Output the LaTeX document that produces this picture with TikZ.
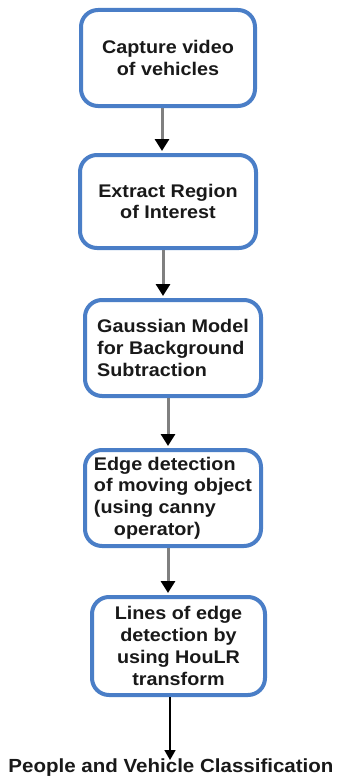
\documentclass[tikz,border=0pt]{standalone}
\usepackage{fontspec}
\setmainfont[FakeStretch=1.08]{Liberation Sans}
\usetikzlibrary{arrows.meta}
\definecolor{boxblue}{RGB}{74,126,199}
\definecolor{shaftgray}{RGB}{128,128,128}
\definecolor{inkdark}{RGB}{25,25,25}
\begin{document}
\begin{tikzpicture}[x=1pt,y=-1pt,
  stage/.style={draw=boxblue, line width=4pt, rounded corners=17pt, fill=white,
    inner sep=0pt, text=inkdark,
    font=\fontsize{18.3}{21.8}\selectfont\bfseries},
  flow/.style={draw=shaftgray, line width=3pt, shorten >=2pt,
    -{Triangle[width=14pt,length=12pt,color=black]}},
  lastflow/.style={draw=black, line width=1.6pt,
    -{Triangle[width=11pt,length=10pt,color=black]}}]
\useasboundingbox (0,0) rectangle (337,776);

% processing stages
\node[stage, minimum width=174pt, minimum height=96pt, align=center] (b1) at (168,58)
  {Capture video\\of vehicles};
\node[stage, minimum width=176pt, minimum height=93pt, align=center] (b2) at (168,201.5)
  {Extract Region\\of Interest};
\node[stage, minimum width=176pt, minimum height=96pt, align=left] (b3) at (173,348)
  {Gaussian Model\\for Background\\Subtraction};
\node[stage, minimum width=176pt, minimum height=96pt, align=left] (b4) at (173,498)
  {Edge detection\\of moving object\\(using canny\\\hspace*{20pt}operator)};
\node[stage, minimum width=173pt, minimum height=98pt, align=center] (b5) at (178.5,646)
  {Lines of edge\\detection by\\using HouLR\\transform};

% final result
\node[anchor=base, inner sep=0pt, text=inkdark,
  font=\fontsize{19}{22}\selectfont\bfseries] (res) at (171,772)
  {People and Vehicle Classification};

% connectors
\draw[flow] ([xshift=-6pt]b1.south) -- ([xshift=-6pt]b1.south |- b2.north);
\draw[flow] ([xshift=-5pt]b2.south) -- ([xshift=-5pt]b2.south |- b3.north);
\draw[flow] ([xshift=-5pt]b3.south) -- ([xshift=-5pt]b3.south |- b4.north);
\draw[flow] ([xshift=-5pt]b4.south) -- ([xshift=-5pt]b4.south |- b5.north);
\draw[lastflow] ([xshift=-8.5pt]b5.south) -- ([xshift=-8.5pt,yshift=-2pt]b5.south |- res.north);
\end{tikzpicture}
\end{document}
